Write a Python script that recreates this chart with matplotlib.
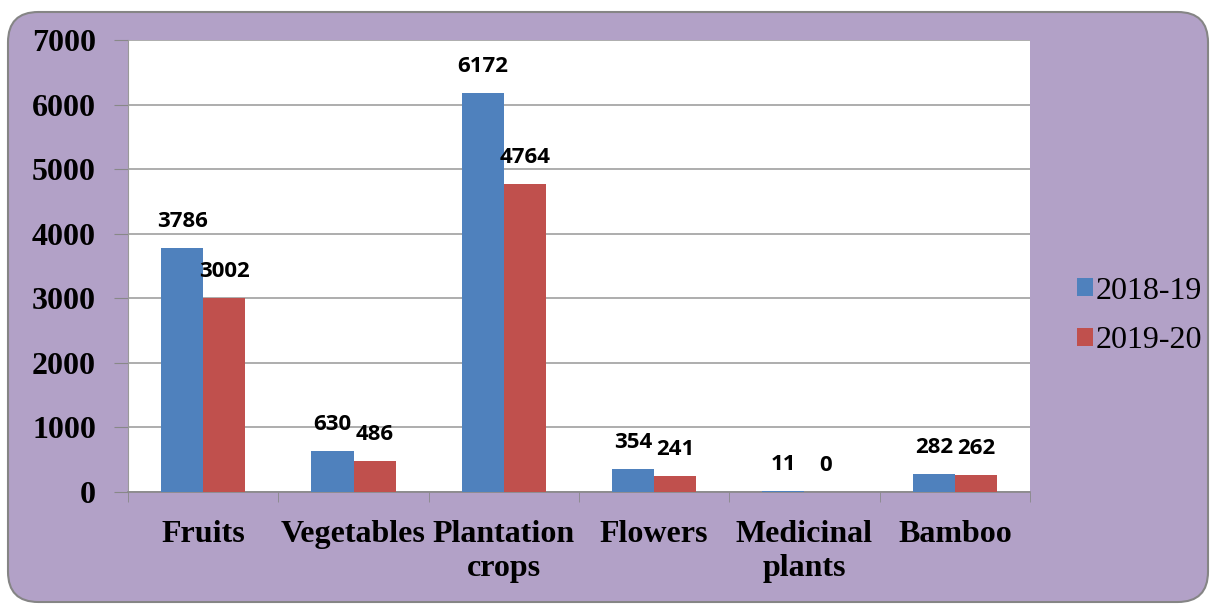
import matplotlib.pyplot as plt
import numpy as np
from matplotlib.patches import FancyBboxPatch

# data
categories = ['Fruits', 'Vegetables', 'Plantation\ncrops', 'Flowers', 'Medicinal\nplants', 'Bamboo']
series_names = ['2018-19', '2019-20']
values_1819 = [3786, 630, 6172, 354, 11, 282]
values_1920 = [3002, 486, 4764, 241, 0, 262]

blue = '#4F81BD'
red = '#C0504D'
purple = '#B2A1C7'

fig = plt.figure(figsize=(12.14, 6.06), dpi=100)

# purple rounded background panel
bg = FancyBboxPatch((8 / 1214, 4 / 606), 1200 / 1214, 590 / 606,
                    boxstyle='round,pad=0,rounding_size=0.025',
                    transform=fig.transFigure, facecolor=purple,
                    edgecolor='#858585', linewidth=1.5, mutation_aspect=2.0,
                    zorder=-10)
fig.patches.append(bg)

ax = fig.add_axes([128 / 1214, (606 - 492) / 606, 902 / 1214, 452 / 606])
ax.set_facecolor('white')

x = np.arange(len(categories))
w = 0.28
b1 = ax.bar(x - w / 2, values_1819, w, color=blue, label=series_names[0], zorder=3)
b2 = ax.bar(x + w / 2, values_1920, w, color=red, label=series_names[1], zorder=3)

for bars in (b1, b2):
    for rect in bars:
        h = rect.get_height()
        ax.annotate(f'{int(h)}', (rect.get_x() + rect.get_width() / 2, h),
                    xytext=(0, 16), textcoords='offset pixels',
                    ha='center', va='bottom', fontsize=16, fontweight='bold',
                    family='Open Sans', color='black', zorder=4)

ax.set_xlim(-0.5, len(categories) - 0.5)
ax.set_ylim(0, 7000)
ax.set_yticks(range(0, 7001, 1000))
ax.set_yticklabels([str(v) for v in range(0, 7001, 1000)],
                   fontsize=23, fontweight='bold', family='Liberation Serif')
ax.set_xticks(x)
ax.set_xticklabels(categories, fontsize=23, fontweight='bold',
                   family='Liberation Serif', linespacing=1.25)
ax.set_xticks(np.arange(-0.5, len(categories)), minor=True)
ax.tick_params(axis='x', which='major', length=0, pad=20)
ax.tick_params(axis='x', which='minor', length=7, color='#888888')
ax.tick_params(axis='y', length=10, color='#888888', pad=13)

ax.grid(axis='y', color='#a0a0a0', linewidth=1.2, zorder=0)
for s in ['top', 'right']:
    ax.spines[s].set_visible(False)
ax.spines['left'].set_color('#999999')
ax.spines['bottom'].set_color('#888888')
ax.spines['bottom'].set_linewidth(1.2)

fig.legend(handles=[b1, b2], labels=series_names, loc='center left',
           bbox_to_anchor=(1048 / 1214, (606 - 316) / 606), frameon=False,
           prop={'family': 'Liberation Serif', 'size': 23},
           handlelength=0.5, handleheight=0.5, handletextpad=0.1,
           labelspacing=0.65)

fig.savefig('out.png', dpi=100)
